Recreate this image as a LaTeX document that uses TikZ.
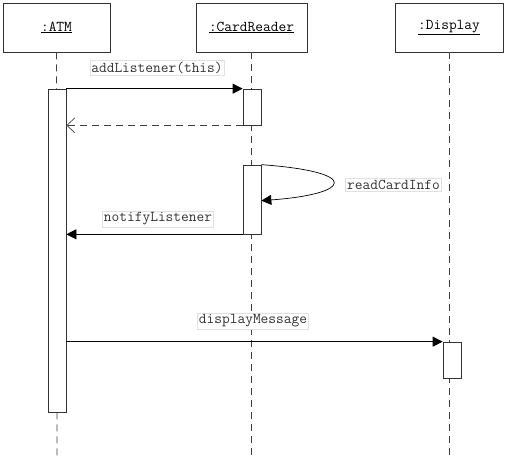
\documentclass[tikz,border=0pt]{standalone}
\usepackage{tikz}
\usetikzlibrary{arrows.meta, positioning, calc}
\tikzset{
	head/.style={rectangle, draw=black!80, fill=white, line width=0.7pt, minimum height=49pt, inner sep=0pt},
	bar/.style={rectangle, draw=black!80, fill=white, line width=0.7pt, minimum width=18pt, inner sep=0pt},
	life/.style={draw=black!75, line width=0.7pt, dash pattern=on 7pt off 5pt},
	msg/.style={draw=black, line width=0.7pt, -{Triangle[length=10pt, width=10pt]}},
	reply/.style={draw=black!75, line width=0.7pt, dash pattern=on 7pt off 5pt, -{Straight Barb[length=8pt, width=15pt, line width=0.7pt]}},
	msglabel/.style={draw=black!12, line width=0.5pt, text=black!80, inner sep=1.5pt, fill=white}
}

\begin{document}
\begin{tikzpicture}[x=1pt, y=-1pt, font=\ttfamily\fontsize{15}{17}\selectfont]
			\useasboundingbox (0,0) rectangle (507,462);
			% Objects
			\node[head, minimum width=107pt] (atm) at (56.5,27.5) {\underline{:ATM}};
			\node[head, minimum width=111pt] (cr) at (251.5,27.5) {\underline{:CardReader}};
			\node[head, minimum width=108pt] (disp) at (449,27.5) {\underline{:Display}};
			% Lifelines
			\coordinate (atm-end) at (57,460);
			\coordinate (cr-end) at (251.5,460);
			\coordinate (disp-end) at (449,460);
			\draw[life] (atm) -- (atm-end);
			\draw[life] (cr) -- (cr-end);
			\draw[life] (disp) -- (disp-end);
			% Activations
			\node[bar, minimum height=323pt] (atm-act) at (57,250.5) {};
			\node[bar, minimum height=36pt] (cr-act1) at (252,107) {};
			\node[bar, minimum height=69pt] (cr-act2) at (252,199.5) {};
			\node[bar, minimum height=36pt] (disp-act) at (452,360) {};
			% Messages
			\draw[msg] (atm-act.north east) -- (cr-act1.north west);
			\node[msglabel] (l-add) at (157,68) {addListener(this)};
			\draw[reply] (cr-act1.south west) -- (atm-act.east |- cr-act1.south west);
			\coordinate (cr-back) at ($(cr-act2.north east)+(0,36)$);
			\draw[msg] (cr-act2.north east) .. controls (362,172) and (352,194) .. (cr-back);
			\node[msglabel] (l-read) at (393.5,185) {readCardInfo};
			\draw[msg] (cr-act2.south west) -- (atm-act.east |- cr-act2.south west);
			\node[msglabel] (l-notify) at (158,219) {notifyListener};
			\draw[msg] (atm-act.east |- disp-act.north west) -- (disp-act.north west);
			\node[msglabel] (l-disp) at (253,321) {displayMessage};
		\end{tikzpicture}
\end{document}
